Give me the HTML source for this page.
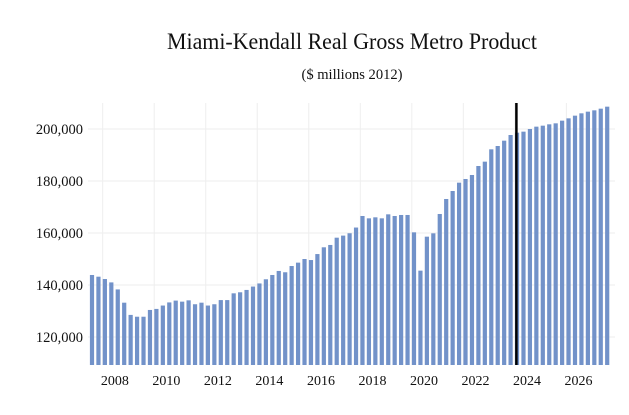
<!DOCTYPE html>
<html><head><meta charset="utf-8"><style>
body{margin:0;background:#fff;}
svg{display:block;font-family:"Liberation Serif",serif;}
</style></head><body>
<svg width="629" height="415">
<text x="352" y="49" text-anchor="middle" font-size="23" textLength="370" lengthAdjust="spacingAndGlyphs" fill="#111">Miami-Kendall Real Gross Metro Product</text>
<text x="352" y="79" text-anchor="middle" font-size="14.5" textLength="101" lengthAdjust="spacingAndGlyphs" fill="#111">($ millions 2012)</text>
<g id="grid"></g><g id="bars"></g><g id="axes"></g>
</svg>
<script>
const startYear = 2007;
const values = [143850,143200,142300,141000,138300,133200,128500,127800,127800,130400,130800,132100,133300,134000,133600,134100,132600,133200,132100,132600,134200,134200,136800,137200,138100,139400,140600,142200,143850,145400,144900,147300,148600,150000,149600,151900,154500,155400,158200,159000,159900,162100,166540,165640,166030,165640,167180,166540,166930,166930,160260,145520,158590,159870,167310,173080,176150,179360,180770,182310,185770,187440,192180,193460,195510,197690,198590,198980,200000,200900,201280,201800,202180,203210,204100,205130,206030,206670,207180,207820,208590];
const yTicks = [120000,140000,160000,180000,200000];
const xTickYears = [2008,2010,2012,2014,2016,2018,2020,2022,2024,2026];
const forecastIndex = 65.9;
const NS="http://www.w3.org/2000/svg";
const x0=92, step=6.44, bw=4.2, baseY=365;
function xAt(i){return x0+i*step;}
function yAt(v){return 129+(200000-v)/20000*52;}
const grid=document.getElementById('grid'), bars=document.getElementById('bars'), axes=document.getElementById('axes');
function mk(tag,attrs,parent){const e=document.createElementNS(NS,tag);for(const k in attrs)e.setAttribute(k,attrs[k]);parent.appendChild(e);return e;}
yTicks.forEach(v=>{
  const l=mk('line',{x1:88,x2:615,y1:yAt(v),y2:yAt(v),stroke:'#eee','stroke-width':1},grid);
  
  
  const t=mk('text',{x:83,y:yAt(v)+5,'text-anchor':'end','font-size':'14.5',fill:'#111'},axes);
  t.textContent=v.toLocaleString('en-US');
  
  
});
xTickYears.forEach(y=>{
  const idx=(y-startYear)*4;
  const g=mk('line',{x1:xAt(idx-2.34),x2:xAt(idx-2.34),y1:103,y2:baseY,stroke:'#eee','stroke-width':1},grid);
  
  
  const t=mk('text',{x:xAt(idx-0.45),y:385,'text-anchor':'middle','font-size':'14',fill:'#111'},axes);
  t.textContent=y;
  
  
});
values.forEach((v,i)=>{
  const r=mk('rect',{x:xAt(i)-bw/2,y:yAt(v),width:bw,height:baseY-yAt(v),fill:'#7292c9'},bars);
  
  
});
const fl=mk('line',{x1:xAt(forecastIndex),x2:xAt(forecastIndex),y1:103,y2:baseY,stroke:'#000','stroke-width':2.5},axes);


</script>
</body></html>
